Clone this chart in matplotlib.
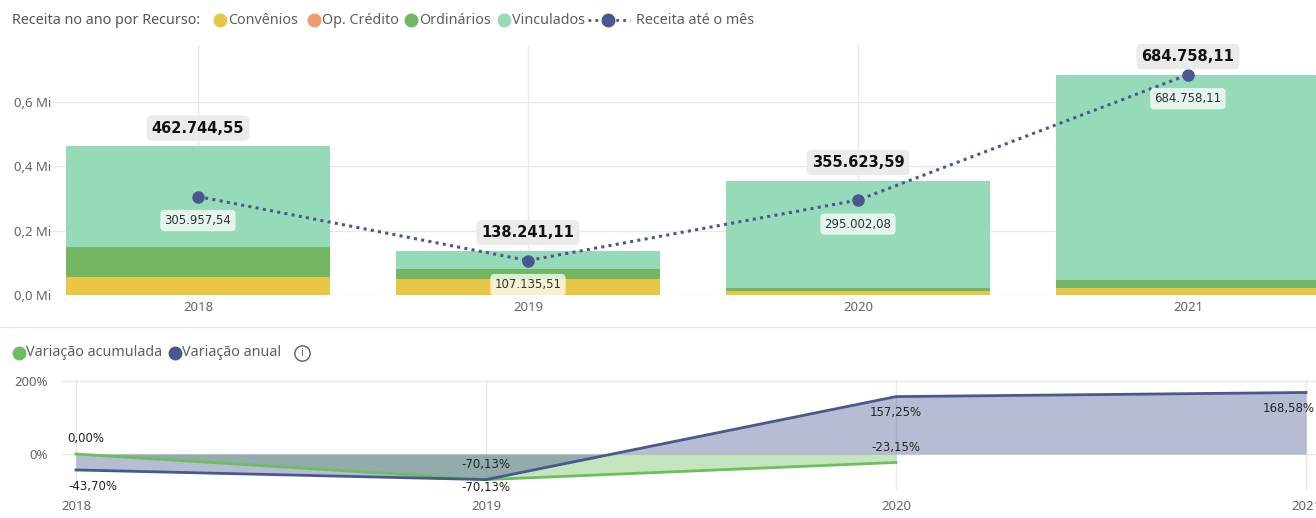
import numpy as np
import matplotlib.pyplot as plt
from matplotlib.lines import Line2D

# ---------------- data ----------------
anos = ['2018', '2019', '2020', '2021']
convenios = [56000, 50700, 12000, 21000]
op_credito = [0, 0, 0, 0]
ordinarios = [94000, 30300, 9000, 25000]
vinculados = [312744.55, 57241.11, 334623.59, 638758.11]
receita_total = [462744.55, 138241.11, 355623.59, 684758.11]
receita_ate_mes = [305957.54, 107135.51, 295002.08, 684758.11]

var_acumulada = [0.00, -70.13, -23.15]
var_anual = [-43.70, -70.13, 157.25, 168.58]

# ---------------- style ----------------
C_CONV = '#EAC645'
C_OPCR = '#EF9E6B'
C_ORD = '#72B663'
C_VINC = '#97DABA'
C_AZUL = '#4A5890'
C_VERDE = '#6CBF5C'
GRID = '#E8E8E8'
TXT = '#666666'
LEG = '#605E5C'

plt.rcParams['font.family'] = ['Noto Sans', 'DejaVu Sans']

W, H = 1316, 518
fig = plt.figure(figsize=(W / 100, H / 100), dpi=100)


def fx(px):
    return px / W


def fy(py):
    return 1 - py / H


def br(v):
    s = f"{v:,.2f}"
    return s.replace(',', 'X').replace('.', ',').replace('X', '.')


def pct(v):
    return f"{v:.2f}%".replace('.', ',')


# ---------------- top chart ----------------
ax = fig.add_axes([fx(53), fy(295), 1 - fx(53), 250 / H])
x = np.arange(len(anos))
base = np.zeros(len(anos))
for vals, cor in [(convenios, C_CONV), (op_credito, C_OPCR),
                  (ordinarios, C_ORD), (vinculados, C_VINC)]:
    ax.bar(x, vals, 0.8, bottom=base, color=cor, zorder=2, lw=0)
    base += np.array(vals)

ax.plot(x, receita_ate_mes, color=C_AZUL, lw=2.2, ls=(0, (1, 1.4)),
        marker='o', ms=8, zorder=4)

for xi, v in zip(x, receita_total):
    ax.annotate(br(v), (xi, v), xytext=(0, 18), textcoords='offset pixels',
                ha='center', va='center', fontsize=10.5, fontweight='bold',
                color='#111111', family='DejaVu Sans', zorder=5,
                bbox=dict(boxstyle='round,pad=0.35', fc='#EBEBEB', ec='none'))

for xi, v in zip(x, receita_ate_mes):
    ax.annotate(br(v), (xi, v), xytext=(0, -24), textcoords='offset pixels',
                ha='center', va='center', fontsize=8.5, color='#333333',
                family='DejaVu Sans', zorder=5,
                bbox=dict(boxstyle='round,pad=0.35', fc='white', alpha=0.75, ec='none'))

ax.set_xlim(-0.4394, 3.388)
ax.set_ylim(0, 777000)
ax.set_xticks(x)
ax.set_xticklabels(anos)
ax.set_yticks([0, 2e5, 4e5, 6e5])
ax.set_yticklabels(['0,0 Mi', '0,2 Mi', '0,4 Mi', '0,6 Mi'])
ax.tick_params(length=0, colors=TXT, labelsize=9.5)
ax.tick_params(axis='x', pad=4)
ax.tick_params(axis='y', pad=1)
ax.grid(color=GRID, lw=1)
ax.set_axisbelow(True)
for s in ax.spines.values():
    s.set_visible(False)

# legend top
fig.text(fx(12), fy(20), 'Receita no ano por Recurso:', fontsize=10.3,
         color='#555555', va='center', fontweight='semibold')
itens = [(220, C_CONV, 'Convênios'), (314, C_OPCR, 'Op. Crédito'),
         (411, C_ORD, 'Ordinários'), (504, C_VINC, 'Vinculados')]
for px, cor, lab in itens:
    fig.add_artist(Line2D([fx(px)], [fy(20)], marker='o', ms=9, color=cor, lw=0))
    fig.text(fx(px + 8), fy(20), lab, fontsize=10.3, color=LEG, va='center')
fig.add_artist(Line2D([fx(588), fx(630)], [fy(20)] * 2, color=C_AZUL, lw=2,
                      ls=(0, (1, 1.5))))
fig.add_artist(Line2D([fx(608)], [fy(20)], marker='o', ms=9, color=C_AZUL, lw=0))
fig.text(fx(636), fy(20), 'Receita até o mês', fontsize=10.3, color=LEG, va='center')

# separator
fig.add_artist(Line2D([0, 1], [fy(327)] * 2, color='#E6E6E6', lw=1))

# ---------------- bottom chart ----------------
ax2 = fig.add_axes([fx(62), fy(490), 1 - fx(62), 111 / H])
x2 = np.arange(len(anos))
xa = x2[:len(var_acumulada)]
ax2.fill_between(xa, var_acumulada, 0, color=C_VERDE, alpha=0.4, lw=0, zorder=2)
ax2.fill_between(x2, var_anual, 0, color=C_AZUL, alpha=0.4, lw=0, zorder=2)
ax2.plot(xa, var_acumulada, color=C_VERDE, lw=2, zorder=3)
ax2.plot(x2, var_anual, color=C_AZUL, lw=2, zorder=3)

rot = dict(textcoords='offset pixels', va='center', fontsize=8.5,
           color='#252423', family='DejaVu Sans', zorder=5)
ax2.annotate(pct(var_acumulada[0]), (0, var_acumulada[0]), xytext=(-9, 16), ha='left', **rot)
ax2.annotate(pct(var_anual[0]), (0, var_anual[0]), xytext=(-8, -17), ha='left', **rot)
ax2.annotate(pct(var_acumulada[1]), (1, var_acumulada[1]), xytext=(0, 15), ha='center', **rot)
ax2.annotate(pct(var_anual[1]), (1, var_anual[1]), xytext=(0, -8), ha='center', **rot)
ax2.annotate(pct(var_anual[2]), (2, var_anual[2]), xytext=(0, -16), ha='center', **rot)
ax2.annotate(pct(var_acumulada[2]), (2, var_acumulada[2]), xytext=(0, 15), ha='center', **rot)
ax2.annotate(pct(var_anual[3]), (3, var_anual[3]), xytext=(9, -16), ha='right', **rot)

ax2.set_xlim(-0.0341, 3.0244)
ax2.set_ylim(-98.6, 205.5)
ax2.set_xticks(x2)
ax2.set_xticklabels(anos)
ax2.set_yticks([0, 200])
ax2.set_yticklabels(['0%', '200%'])
ax2.tick_params(length=0, colors=TXT, labelsize=9.5)
ax2.tick_params(axis='x', pad=7)
ax2.tick_params(axis='y', pad=10)
ax2.grid(color=GRID, lw=1)
ax2.set_axisbelow(True)
for s in ax2.spines.values():
    s.set_visible(False)

# legend bottom
fig.add_artist(Line2D([fx(19)], [fy(353)], marker='o', ms=9, color=C_VERDE, lw=0))
fig.text(fx(26), fy(353), 'Variação acumulada', fontsize=10.3, color=LEG, va='center')
fig.add_artist(Line2D([fx(175)], [fy(353)], marker='o', ms=9, color=C_AZUL, lw=0))
fig.text(fx(182), fy(353), 'Variação anual', fontsize=10.3, color=LEG, va='center')
fig.add_artist(Line2D([fx(302)], [fy(353)], marker='o', ms=11, mfc='none',
                      mec=LEG, mew=1, lw=0))
fig.text(fx(302), fy(353), 'i', fontsize=7.5, color=LEG, ha='center', va='center')

fig.savefig('out.png', dpi=100)
